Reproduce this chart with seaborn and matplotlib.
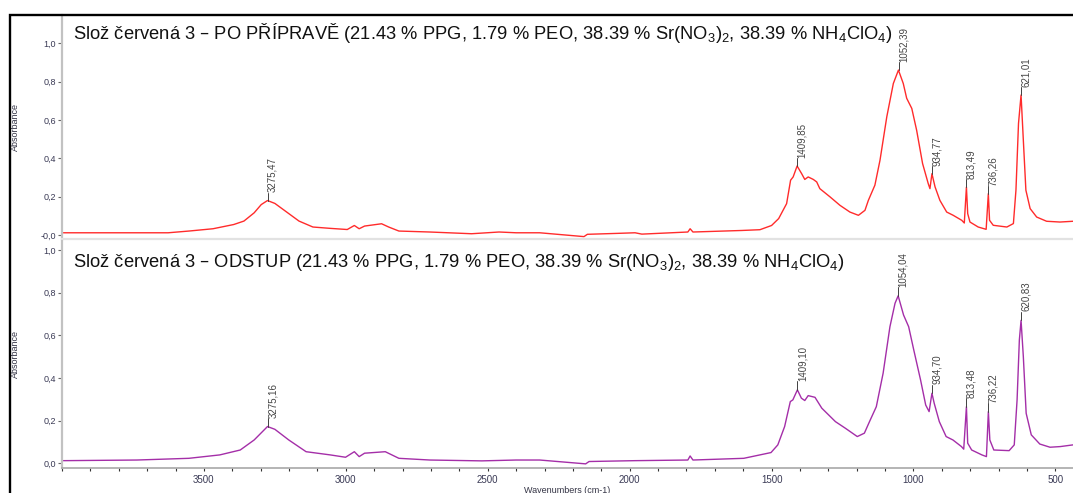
import numpy as np
import pandas as pd
import matplotlib
matplotlib.use("Agg")
import matplotlib.pyplot as plt
import seaborn as sns
from matplotlib.ticker import FixedLocator, MultipleLocator, FixedFormatter
from matplotlib.patches import Rectangle

# ---------------- data ----------------
top_wn = [3995, 3626, 3553, 3468, 3395, 3359, 3323, 3298, 3276, 3250, 3213, 3165, 3116,
          3055, 2995, 2970, 2953, 2934, 2874, 2849, 2813, 2704, 2557, 2460, 2400, 2317,
          2161, 2149, 2041, 1981, 1957, 1795, 1787, 1777, 1605, 1541, 1500, 1475, 1447,
          1433, 1424, 1410, 1394, 1383, 1371, 1353, 1341, 1330, 1294, 1259, 1224, 1194,
          1171, 1159, 1136, 1118, 1094, 1071, 1053, 1036, 1024, 1006, 989, 968, 948, 942,
          935, 924, 907, 883, 860, 830, 821, 813.5, 809, 801, 772, 744, 736.3, 732, 719,
          671, 648, 639, 630, 621, 613, 604, 589, 566, 531, 484, 438]
top_abs = [0.012, 0.012, 0.021, 0.033, 0.055, 0.073, 0.116, 0.159, 0.180, 0.165, 0.125, 0.073, 0.042,
           0.035, 0.029, 0.050, 0.033, 0.047, 0.059, 0.042, 0.021, 0.016, 0.007, 0.016, 0.012, 0.012,
           -0.008, 0.004, 0.009, 0.012, 0.005, 0.016, 0.033, 0.016, 0.024, 0.028, 0.050, 0.086, 0.164,
           0.286, 0.303, 0.360, 0.320, 0.290, 0.303, 0.290, 0.277, 0.242, 0.199, 0.155, 0.120, 0.103,
           0.129, 0.181, 0.260, 0.390, 0.617, 0.790, 0.860, 0.790, 0.713, 0.660, 0.547, 0.373, 0.268, 0.242,
           0.320, 0.251, 0.181, 0.120, 0.103, 0.077, 0.063, 0.250, 0.112, 0.068, 0.042, 0.030, 0.216, 0.077, 0.051,
           0.042, 0.060, 0.234, 0.582, 0.730, 0.495, 0.234, 0.138, 0.094, 0.072, 0.068, 0.072]

bot_wn = [3995, 3736, 3553, 3444, 3372, 3323, 3276, 3250, 3201, 3140, 3055, 3001, 2970,
          2953, 2934, 2861, 2813, 2704, 2521, 2400, 2317, 2155, 2143, 1981, 1795, 1787,
          1777, 1598, 1502, 1478, 1454, 1434, 1425, 1409, 1395, 1383, 1371, 1347, 1323,
          1275, 1240, 1198, 1173, 1155, 1131, 1107, 1083, 1065, 1054, 1035, 1017, 999,
          975, 957, 945, 935, 927, 909, 885, 861, 831, 823, 813.5, 809, 795, 759, 743,
          736.2, 731, 717, 663, 645, 635, 627, 621, 613, 603, 585, 555, 519, 483, 438]
bot_abs = [0.012, 0.015, 0.023, 0.039, 0.062, 0.109, 0.172, 0.159, 0.109, 0.054, 0.039, 0.028, 0.054,
           0.031, 0.047, 0.054, 0.023, 0.015, 0.011, 0.015, 0.015, -0.003, 0.008, 0.012, 0.015, 0.034,
           0.015, 0.023, 0.050, 0.086, 0.172, 0.289, 0.297, 0.344, 0.305, 0.294, 0.317, 0.309, 0.258,
           0.195, 0.164, 0.125, 0.141, 0.195, 0.265, 0.422, 0.640, 0.750, 0.785, 0.695, 0.640, 0.531,
           0.390, 0.273, 0.242, 0.328, 0.281, 0.195, 0.125, 0.109, 0.078, 0.066, 0.265, 0.094, 0.062, 0.039, 0.031,
           0.242, 0.109, 0.062, 0.059, 0.086, 0.297, 0.578, 0.670, 0.500, 0.234, 0.133, 0.090, 0.075, 0.078, 0.086]

top_peaks = [3275.47, 1409.85, 1052.39, 934.77, 813.49, 736.26, 621.01]
top_peak_abs = [0.180, 0.360, 0.860, 0.320, 0.250, 0.216, 0.730]
bot_peaks = [3275.16, 1409.10, 1054.04, 934.70, 813.48, 736.22, 620.83]
bot_peak_abs = [0.172, 0.344, 0.785, 0.328, 0.265, 0.242, 0.670]

ytick_values = [0.0, 0.2, 0.4, 0.6, 0.8, 1.0]
top_ytick_labels = ["-0,0", "0,2", "0,4", "0,6", "0,8", "1,0"]
bot_ytick_labels = ["0,0", "0,2", "0,4", "0,6", "0,8", "1,0"]
xtick_values = [3500, 3000, 2500, 2000, 1500, 1000, 500]
xtick_labels = ["3500", "3000", "2500", "2000", "1500", "1000", "500"]

top_title = ("Slož červená 3 – PO PŘÍPRAVĚ (21.43 % PPG, 1.79 % PEO, 38.39 % "
             "Sr(NO$\\mathregular{_3}$)$\\mathregular{_2}$, 38.39 % NH$\\mathregular{_4}$ClO$\\mathregular{_4}$)")
bot_title = ("Slož červená 3 – ODSTUP (21.43 % PPG, 1.79 % PEO, 38.39 % "
             "Sr(NO$\\mathregular{_3}$)$\\mathregular{_2}$, 38.39 % NH$\\mathregular{_4}$ClO$\\mathregular{_4}$)")
y_label = "Absorbance"
x_label = "Wavenumbers (cm-1)"

# ---------------- style ----------------
sns.set_theme(style="white")
plt.rcParams['font.family'] = ['Liberation Sans', 'DejaVu Sans']
plt.rcParams['mathtext.default'] = 'regular'

W, H = 1073, 493
fig = plt.figure(figsize=(W / 100, H / 100), dpi=100)
fig.patch.set_facecolor('white')

ax1 = fig.add_axes([62 / W, 1 - 239.3 / H, (W - 62) / W, (239.3 - 15) / H])
ax2 = fig.add_axes([62 / W, 1 - 467.7 / H, (W - 62) / W, (467.7 - 241) / H])

df_top = pd.DataFrame({"wn": top_wn, "abs": top_abs})
df_bot = pd.DataFrame({"wn": bot_wn, "abs": bot_abs})

sns.lineplot(data=df_top, x="wn", y="abs", ax=ax1, color="#ff2b2b", linewidth=1.0,
             sort=False, estimator=None)
sns.lineplot(data=df_bot, x="wn", y="abs", ax=ax2, color="#a42ea8", linewidth=1.0,
             sort=False, estimator=None)

label_col = "#3a3a55"
for ax, ylim, ylabels, title, peaks, pabs in [
        (ax1, (-0.022, 1.147), top_ytick_labels, top_title, top_peaks, top_peak_abs),
        (ax2, (-0.021, 1.042), bot_ytick_labels, bot_title, bot_peaks, bot_peak_abs)]:
    ax.set_xlim(4000, 438)
    ax.set_ylim(*ylim)
    ax.set_facecolor('white')
    for s in ("top", "right"):
        ax.spines[s].set_visible(False)
    ax.spines["left"].set_color("#c2c2c2")
    ax.spines["left"].set_linewidth(1.6)
    ax.yaxis.set_major_locator(FixedLocator(ytick_values))
    ax.yaxis.set_major_formatter(FixedFormatter(ylabels))
    ax.tick_params(axis="y", which="major", direction="out", length=3, width=0.8,
                   color="#666666", labelsize=6.5, labelcolor=label_col, pad=1.5, left=True)
    ax.set_ylabel(y_label, fontsize=6.5, color="#333344")
    ax.yaxis.set_label_coords(-0.0415, 0.5)
    for wn, a in zip(peaks, pabs):
        ax.plot([wn, wn], [a, a + 0.04], color="#404040", linewidth=0.7)
        ax.text(wn, a + 0.042, f"{wn:.2f}".replace(".", ","), rotation=90,
                ha="left", va="bottom", fontsize=7, color="#444444")

ax1.text(0.011, 0.8917, top_title, transform=ax1.transAxes, fontsize=13.2,
         color="#111111", ha="left", va="baseline")
ax2.text(0.011, 0.8866, bot_title, transform=ax2.transAxes, fontsize=13.2,
         color="#111111", ha="left", va="baseline")

# top panel: no x ticks
ax1.spines["bottom"].set_color("#e2e2e2")
ax1.spines["bottom"].set_linewidth(1.6)
ax1.set_xticks([])
ax1.set_xlabel("")

# bottom panel x axis
ax2.spines["bottom"].set_color("#a8a8a8")
ax2.spines["bottom"].set_linewidth(1.2)
ax2.xaxis.set_major_locator(FixedLocator(xtick_values))
ax2.xaxis.set_major_formatter(FixedFormatter(xtick_labels))
ax2.xaxis.set_minor_locator(MultipleLocator(100))
ax2.tick_params(axis="x", which="both", direction="out", length=2.5, width=0.8,
                color="#333333", labelsize=7, labelcolor=label_col, pad=2.5, bottom=True)
ax2.set_xlabel(x_label, fontsize=6.5, color="#333344")
ax2.xaxis.set_label_coords(0.5, -0.081)

# outer black frame (cropped screenshot frame)
fig.patches.append(Rectangle((10.3 / W, -0.2), 1.5, (1 - 14.5 / H) + 0.2,
                             transform=fig.transFigure, fill=False,
                             linewidth=1.7, edgecolor="black"))

fig.savefig("out.png", dpi=100, facecolor="white")
